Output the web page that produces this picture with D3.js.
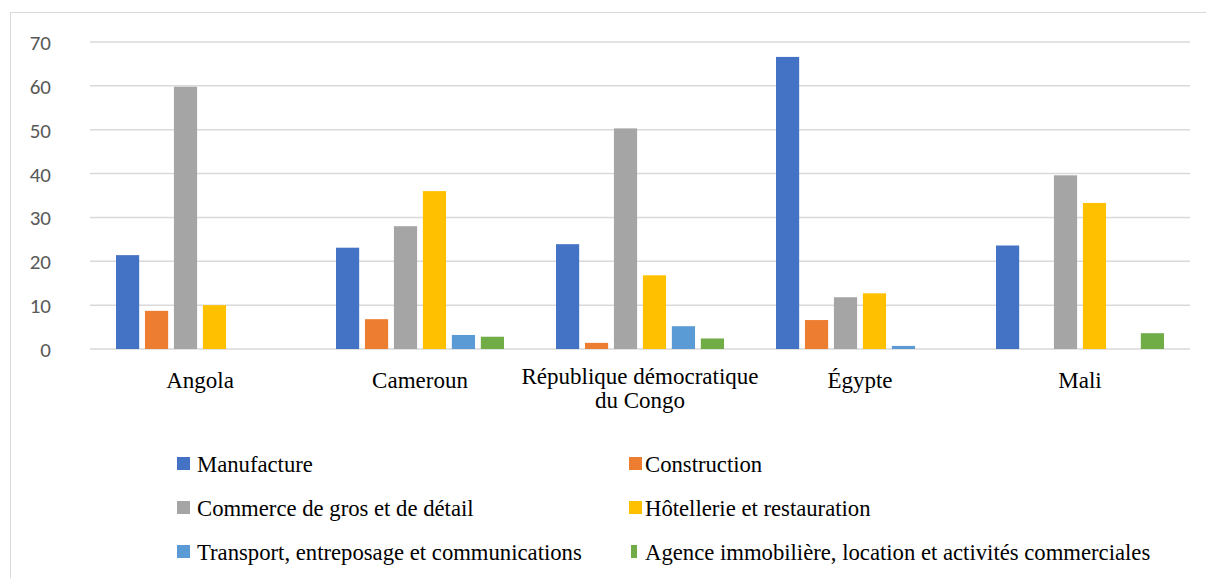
<!DOCTYPE html>
<html>
<head>
<meta charset="utf-8">
<script src="https://cdn.jsdelivr.net/npm/d3@7"></script>
<style>
  body { margin: 0; background: #fff; }
</style>
</head>
<body>
<div id="viz"></div>
<script>
const width = 1206, height = 578;

// data
const countries = ["Angola", "Cameroun", "République démocratique du Congo", "Égypte", "Mali"];
const sectors = [
  "Manufacture",
  "Construction",
  "Commerce de gros et de détail",
  "Hôtellerie et restauration",
  "Transport, entreposage et communications",
  "Agence immobilière, location et activités commerciales"
];
const manufacture  = [21.4, 23.1, 23.9, 66.6, 23.6];
const construction = [8.7, 6.8, 1.4, 6.6, 0];
const commerce     = [59.8, 28.0, 50.3, 11.8, 39.6];
const hotellerie   = [10.0, 36.0, 16.8, 12.7, 33.3];
const transport    = [0, 3.2, 5.2, 0.7, 0];
const agence       = [0, 2.8, 2.4, 0, 3.6];
const yTicks = [0, 10, 20, 30, 40, 50, 60, 70];
const colors = ["#4472C4", "#ED7D31", "#A5A5A5", "#FFC000", "#5B9BD5", "#70AD47"];

const series = [manufacture, construction, commerce, hotellerie, transport, agence];

const margin = {top: 42, right: 16, bottom: 229, left: 90};
const serif = "'Liberation Serif', 'Times New Roman', serif";

const svg = d3.select("#viz").append("svg").attr("width", width).attr("height", height);

// outer chart border
svg.append("rect")
  .attr("x", 10.5).attr("y", 12.5)
  .attr("width", width).attr("height", height)
  .attr("fill", "none").attr("stroke", "#d9d9d9").attr("stroke-width", 1);

const x = d3.scaleBand().domain(countries).range([margin.left, width - margin.right]);
const xi = d3.scaleBand().domain(d3.range(sectors.length)).range([26, x.bandwidth() - 26]).paddingInner(0.2);
const y = d3.scaleLinear().domain([0, 70]).range([height - margin.bottom, margin.top]);

// gridlines
svg.append("g")
  .selectAll("line").data(yTicks).enter().append("line")
  .attr("x1", margin.left).attr("x2", width - margin.right)
  .attr("y1", d => y(d)).attr("y2", d => y(d))
  .attr("stroke", "#d9d9d9").attr("stroke-width", 1.5);

// y axis labels
const yAxis = g => g
  .attr("transform", `translate(51,0)`)
  .call(d3.axisLeft(y).tickValues(yTicks).tickSize(0).tickPadding(0))
  .call(g => g.select(".domain").remove())
  .call(g => g.selectAll("text")
    .attr("fill", "#595959")
    .attr("font-family", "Carlito, 'Open Sans', sans-serif")
    .attr("font-size", 21)
    .attr("dy", "0.36em"));
svg.append("g").call(yAxis);

// bars
const groups = svg.append("g").selectAll("g").data(countries).enter().append("g")
  .attr("transform", d => `translate(${x(d)},0)`);

groups.selectAll("rect")
  .data((c, ci) => series.map((s, si) => ({si, v: s[ci]})))
  .enter().append("rect")
  .attr("x", d => xi(d.si))
  .attr("width", xi.bandwidth())
  .attr("y", d => y(d.v))
  .attr("height", d => y(0) - y(d.v))
  .attr("fill", d => colors[d.si]);

// category labels
const xAxis = g => g
  .attr("transform", `translate(0,${y(0)})`)
  .call(d3.axisBottom(x).tickSize(0).tickPadding(0))
  .call(g => g.select(".domain").remove())
  .call(g => g.selectAll("text").remove());
const xg = svg.append("g").call(xAxis);

xg.selectAll(".tick").each(function(d) {
  const t = d3.select(this).append("text")
    .attr("fill", "#000")
    .attr("font-family", serif)
    .attr("font-size", 23)
    .attr("text-anchor", "middle");
  const lines = d === "République démocratique du Congo" ? ["République démocratique", "du Congo"] : [d];
  const y0 = lines.length > 1 ? 35 : 39;
  lines.forEach((l, i) => t.append("tspan").attr("x", 0).attr("y", y0 + i * 24).text(l));
});

// legend
const legendPos = [[177, 463], [629, 463], [177, 507], [629, 507], [177, 551], [629, 551]];
const legend = svg.append("g").selectAll("g").data(sectors).enter().append("g")
  .attr("transform", (d, i) => `translate(${legendPos[i][0]},${legendPos[i][1]})`);

legend.append("rect")
  .attr("x", (d, i) => i === 5 ? 2 : 0)
  .attr("y", -6)
  .attr("width", (d, i) => i === 5 ? 6 : 13)
  .attr("height", 13)
  .attr("fill", (d, i) => colors[i]);

legend.append("text")
  .attr("x", (d, i) => i % 2 === 0 ? 20 : 16)
  .attr("y", 0)
  .attr("dy", "0.38em")
  .attr("font-family", serif)
  .attr("font-size", 22.7)
  .attr("fill", "#000")
  .text(d => d);
</script>
</body>
</html>
